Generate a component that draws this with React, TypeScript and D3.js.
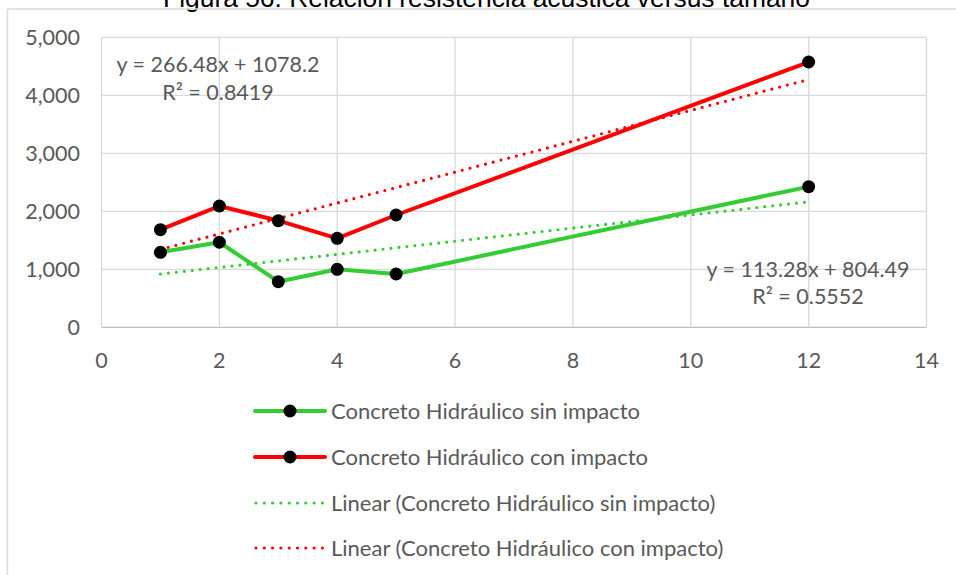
import React from "react";
import * as d3 from "d3";

const title = "Figura 56. Relación resistencia acústica versus tamaño";
const xValues = [1, 2, 3, 4, 5, 12];
const sinImpacto = [1293, 1466, 786, 1000, 919, 2424];
const conImpacto = [1683, 2091, 1838, 1534, 1936, 4574];
const xTicks = [0, 2, 4, 6, 8, 10, 12, 14];
const yTicks = [0, 1000, 2000, 3000, 4000, 5000];
const eqCon = ["y = 266.48x + 1078.2", "R² = 0.8419"];
const eqSin = ["y = 113.28x + 804.49", "R² = 0.5552"];
const legendLabels = [
  "Concreto Hidráulico sin impacto",
  "Concreto Hidráulico con impacto",
  "Linear (Concreto Hidráulico sin impacto)",
  "Linear (Concreto Hidráulico con impacto)",
];

const GREEN = "#33cc33";
const RED = "#ff0000";
const GRID = "#d9d9d9";
const TEXT = "#595959";
const FONT = "Lato, 'Open Sans', sans-serif";

function fit(xs: number[], ys: number[]) {
  const mx = d3.mean(xs)!;
  const my = d3.mean(ys)!;
  const sxy = d3.sum(xs, (x, i) => (x - mx) * (ys[i] - my));
  const sxx = d3.sum(xs, (x) => (x - mx) * (x - mx));
  const m = sxy / sxx;
  return { m, b: my - m * mx };
}

export default function App() {
  const W = 956, H = 575;
  const x = d3.scaleLinear().domain([0, 14]).range([101.5, 926.5]);
  const y = d3.scaleLinear().domain([0, 5000]).range([327.3, 37.3]);
  const line = d3.line<[number, number]>().x((d) => x(d[0])).y((d) => y(d[1]));

  const series = [
    { vals: sinImpacto, color: GREEN },
    { vals: conImpacto, color: RED },
  ];
  const xmin = d3.min(xValues)!, xmax = d3.max(xValues)!;
  const trends = series.map((s) => {
    const f = fit(xValues, s.vals);
    return { color: s.color, pts: [[xmin, f.m * xmin + f.b], [xmax, f.m * xmax + f.b]] as [number, number][] };
  });

  const legendY = [411, 457, 503, 548];
  const FS = 21.5;

  return (
    <svg width={W} height={H} style={{ position: "absolute", left: 0, top: 0, background: "#fff" }}>
      <text x={486.5} y={6.5} textAnchor="middle" fontFamily="'Liberation Sans', Arial, sans-serif" fontSize={26.4} fill="#000">
        {title}
      </text>
      {/* chart frame */}
      <line x1={7.5} x2={W} y1={9} y2={9} stroke={GRID} strokeWidth={1.5} />
      <line x1={7.5} x2={7.5} y1={9} y2={H} stroke={GRID} strokeWidth={1.5} />

      {/* gridlines */}
      {yTicks.map((t) => (
        <line key={"gy" + t} x1={x(0)} x2={x(14)} y1={y(t)} y2={y(t)} stroke={t === 0 ? "#bfbfbf" : GRID} strokeWidth={1.3} />
      ))}
      {xTicks.map((t) => (
        <line key={"gx" + t} x1={x(t)} x2={x(t)} y1={y(0)} y2={y(5000)} stroke={GRID} strokeWidth={1.3} />
      ))}

      {/* tick labels */}
      {yTicks.map((t) => (
        <text key={"ty" + t} x={80} y={y(t)} dy="0.35em" textAnchor="end" fontFamily={FONT} fontSize={FS} fill={TEXT}>
          {d3.format(",")(t)}
        </text>
      ))}
      {xTicks.map((t) => (
        <text key={"tx" + t} x={x(t)} y={360} dy="0.35em" textAnchor="middle" fontFamily={FONT} fontSize={FS} fill={TEXT}>
          {t}
        </text>
      ))}

      {/* trend lines */}
      {trends.map((t, i) => (
        <path key={"tr" + i} d={line(t.pts)!} fill="none" stroke={t.color} strokeWidth={3.2} strokeLinecap="round" strokeDasharray="0 8" />
      ))}

      {/* series */}
      {series.map((s, i) => (
        <g key={"s" + i}>
          <path d={line(xValues.map((xv, j) => [xv, s.vals[j]] as [number, number]))!} fill="none" stroke={s.color} strokeWidth={4} strokeLinejoin="round" />
          {xValues.map((xv, j) => (
            <circle key={j} cx={x(xv)} cy={y(s.vals[j])} r={6.5} fill="#000" />
          ))}
        </g>
      ))}

      {/* equations */}
      <text x={218} y={64} dy="0.35em" textAnchor="middle" fontFamily={FONT} fontSize={FS} fill={TEXT}>{eqCon[0]}</text>
      <text x={218} y={92} dy="0.35em" textAnchor="middle" fontFamily={FONT} fontSize={FS} fill={TEXT}>{eqCon[1]}</text>
      <text x={808} y={269} dy="0.35em" textAnchor="middle" fontFamily={FONT} fontSize={FS} fill={TEXT}>{eqSin[0]}</text>
      <text x={808} y={296} dy="0.35em" textAnchor="middle" fontFamily={FONT} fontSize={FS} fill={TEXT}>{eqSin[1]}</text>

      {/* legend */}
      {legendLabels.map((lab, i) => {
        const ly = legendY[i];
        const color = i % 2 === 0 ? GREEN : RED;
        const dotted = i >= 2;
        return (
          <g key={"lg" + i}>
            {dotted ? (
              <line x1={256} x2={324} y1={ly} y2={ly} stroke={color} strokeWidth={3.2} strokeLinecap="round" strokeDasharray="0 8.3" />
            ) : (
              <>
                <line x1={255} x2={325} y1={ly} y2={ly} stroke={color} strokeWidth={4} strokeLinecap="round" />
                <circle cx={290} cy={ly} r={6.5} fill="#000" />
              </>
            )}
            <text x={331} y={ly} dy="0.35em" fontFamily={FONT} fontSize={22} fill={TEXT}>{lab}</text>
          </g>
        );
      })}
    </svg>
  );
}
